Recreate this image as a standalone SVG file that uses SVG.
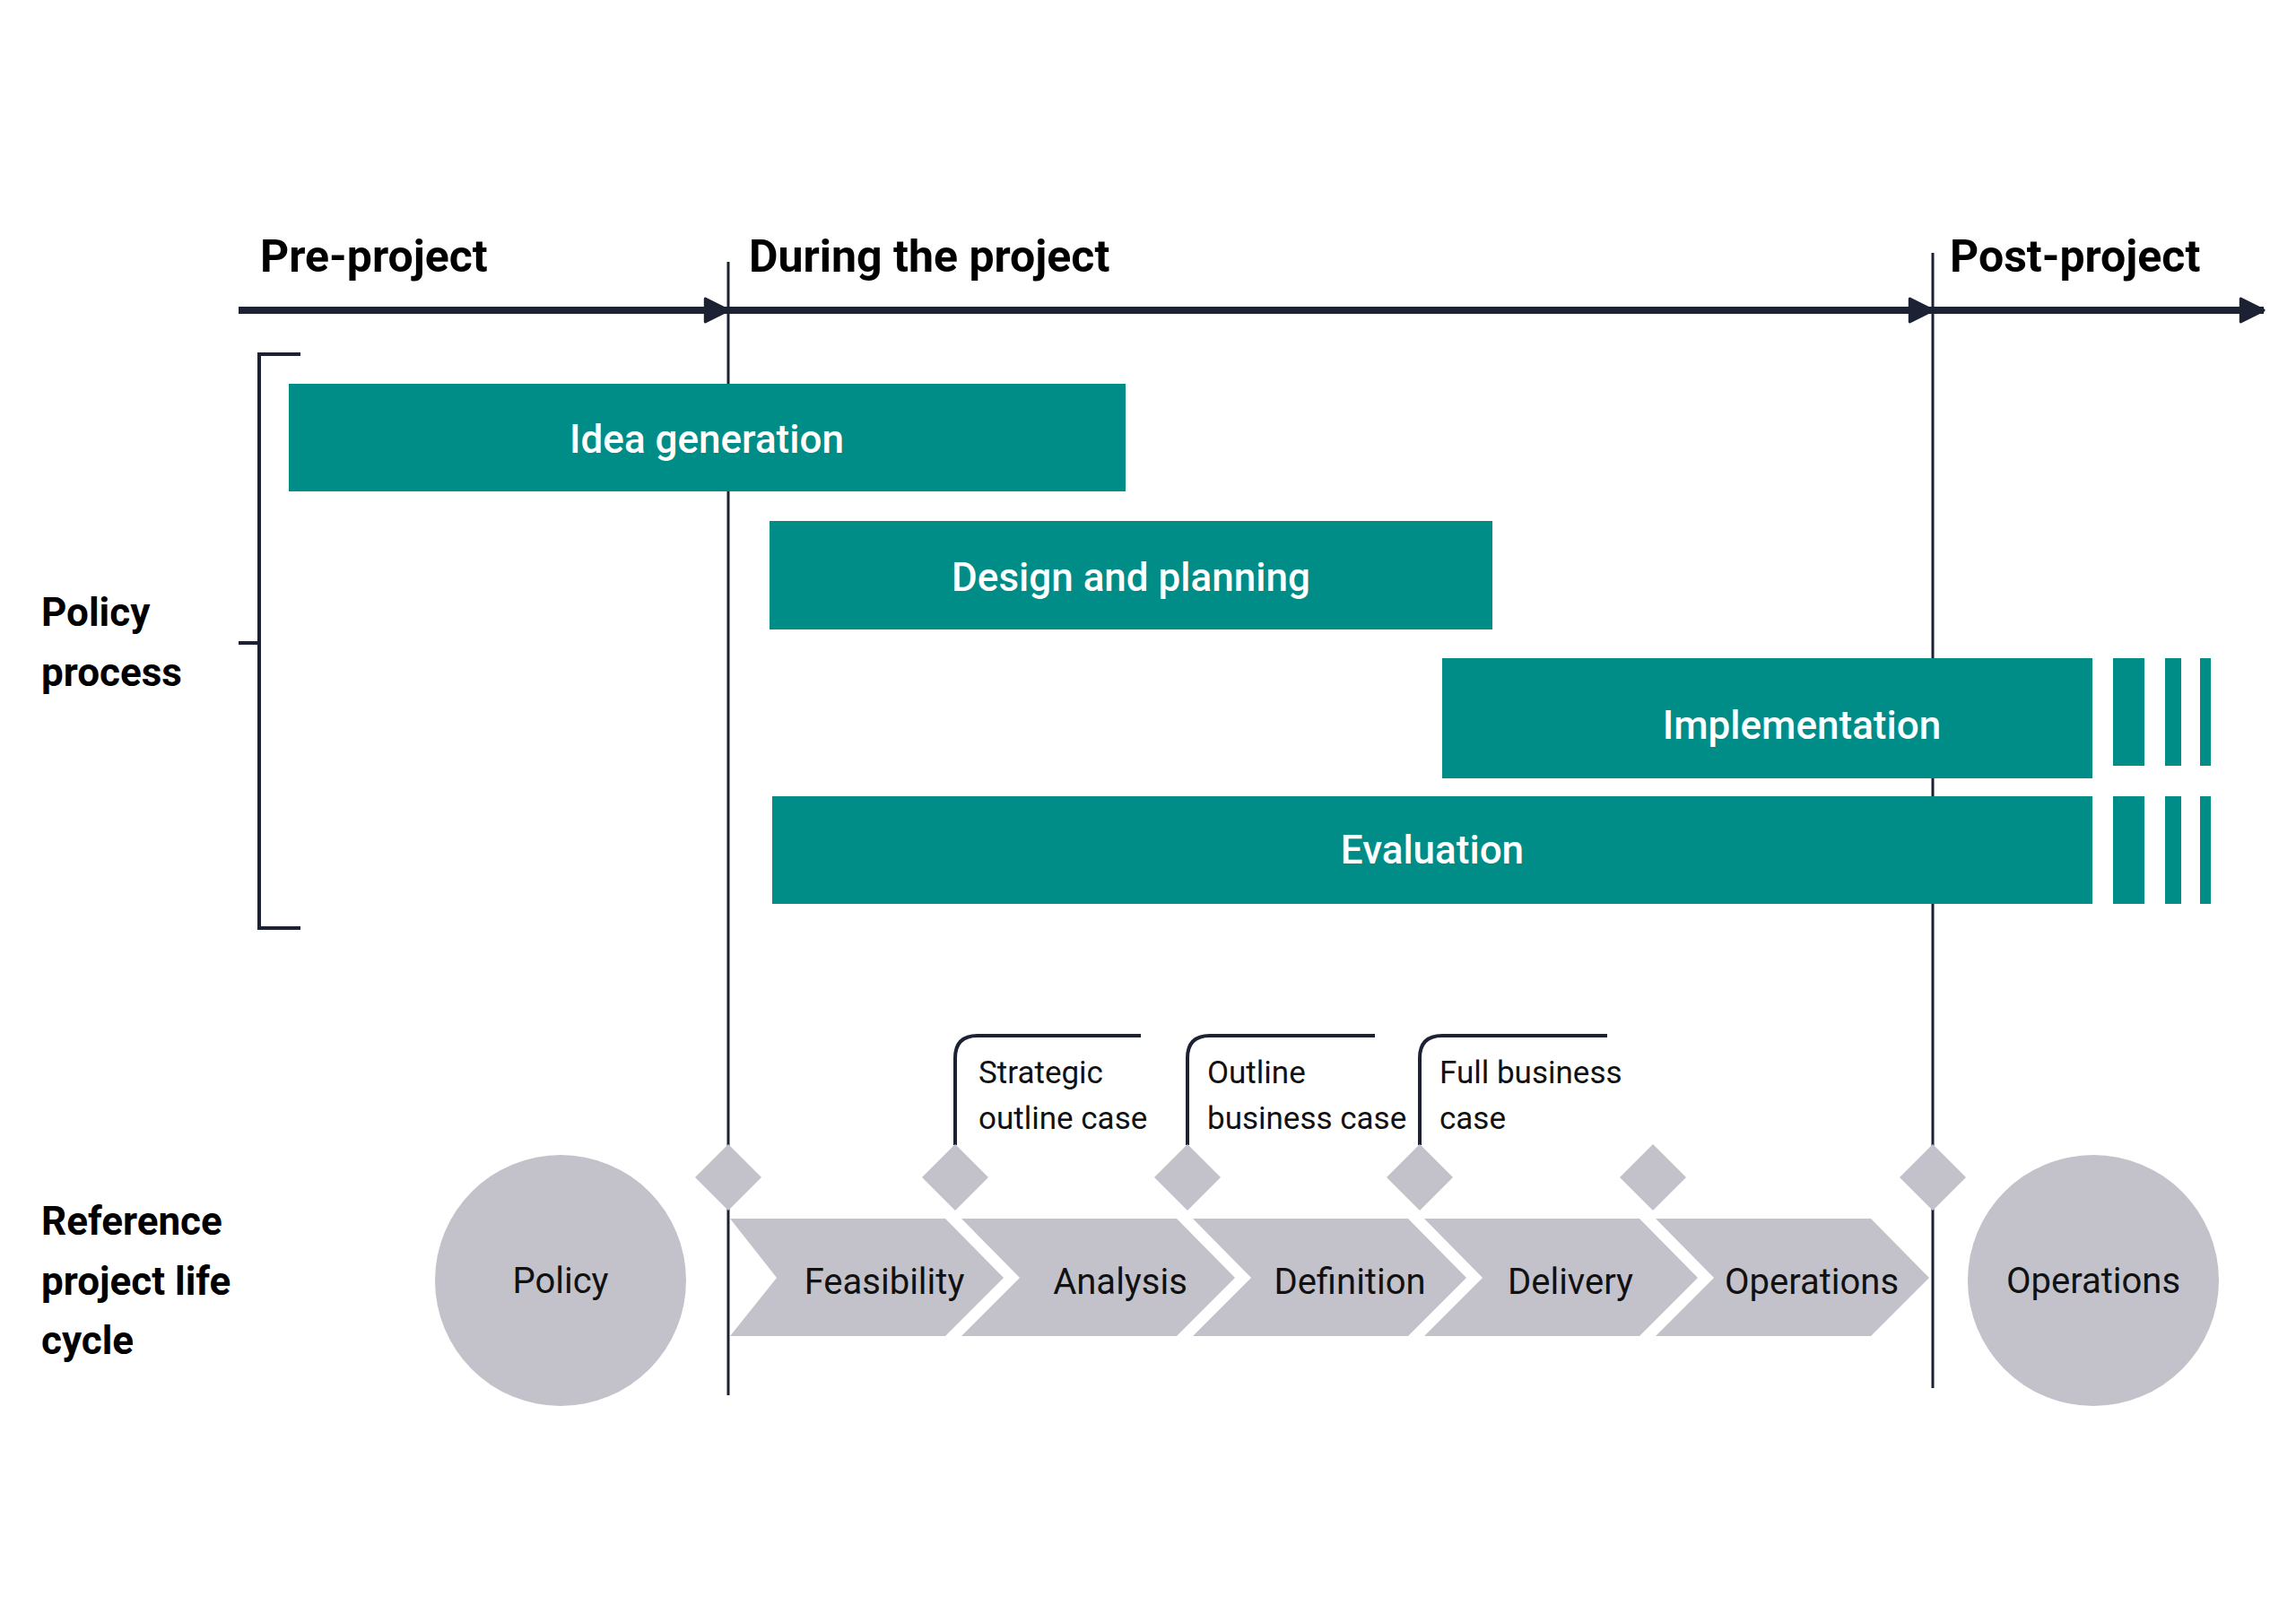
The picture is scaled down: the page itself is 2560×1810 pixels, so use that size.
<svg xmlns="http://www.w3.org/2000/svg" width="2560" height="1810" viewBox="0 0 2560 1810">
<style>
.h{font-family:Roboto,"Liberation Sans",sans-serif;font-weight:700;font-size:50px;fill:#000}
.l{font-family:Roboto,"Liberation Sans",sans-serif;font-weight:700;font-size:44px;fill:#000}
.bar{fill:#008C87}
.bt{font-family:Roboto,"Liberation Sans",sans-serif;font-weight:500;font-size:44px;fill:#fff;text-anchor:middle;dominant-baseline:central}
.g{fill:#C3C2CA}
.ct{font-family:Roboto,"Liberation Sans",sans-serif;font-size:40px;fill:#111;text-anchor:middle;dominant-baseline:central}
.cl{font-family:Roboto,"Liberation Sans",sans-serif;font-size:35px;fill:#111}
.ln{stroke:#1c2233;fill:none}
</style>
<defs>
<marker id="ah" viewBox="0 0 10 10" refX="9" refY="5" markerWidth="4" markerHeight="4" orient="auto" markerUnits="strokeWidth">
<path d="M1,1 L9,5 L1,9 Z" fill="#1c2233" stroke="#1c2233" stroke-linejoin="round"/>
</marker>
</defs>
<rect width="2560" height="1810" fill="#fff"/>
<g id="connectors">
<line class="ln" x1="266" y1="346" x2="812" y2="346" stroke-width="8" marker-end="url(#ah)"/>
<line class="ln" x1="812" y1="346" x2="2155" y2="346" stroke-width="8" marker-end="url(#ah)"/>
<line class="ln" x1="2155" y1="346" x2="2524" y2="346" stroke-width="8" marker-end="url(#ah)"/>
<line class="ln" x1="812" y1="292" x2="812" y2="1556" stroke-width="3"/>
<line class="ln" x1="2155" y1="282" x2="2155" y2="1548" stroke-width="3"/>
<path class="ln" d="M335,395 H289 V1035 H335 M266,717 H289" stroke-width="4"/>
<path class="ln" d="M1065,1277 V1180 Q1065,1155 1090,1155 H1272" stroke-width="4"/>
<path class="ln" d="M1324,1277 V1180 Q1324,1155 1349,1155 H1533" stroke-width="4"/>
<path class="ln" d="M1583,1277 V1180 Q1583,1155 1608,1155 H1792" stroke-width="4"/>
</g>
<g id="headers">
<text class="h" x="290" y="303">Pre-project</text>
<text class="h" x="835" y="303">During the project</text>
<text class="h" x="2174" y="303">Post-project</text>
<text class="l" x="46" y="698">Policy</text>
<text class="l" x="46" y="765">process</text>
<text class="l" x="46" y="1377">Reference</text>
<text class="l" x="46" y="1444">project life</text>
<text class="l" x="46" y="1510">cycle</text>
</g>
<g id="idea"><rect class="bar" x="322" y="428" width="933" height="120"/><text class="bt" x="788" y="490">Idea generation</text></g>
<g id="design"><rect class="bar" x="858" y="581" width="806" height="121"/><text class="bt" x="1261" y="644">Design and planning</text></g>
<g id="implementation"><rect class="bar" x="1608" y="734" width="725" height="134"/><rect class="bar" x="2356" y="734" width="35" height="120"/><rect class="bar" x="2414" y="734" width="18" height="120"/><rect class="bar" x="2453" y="734" width="12" height="120"/><text class="bt" x="2009" y="809">Implementation</text></g>
<g id="evaluation"><rect class="bar" x="861" y="888" width="1472" height="120"/><rect class="bar" x="2356" y="888" width="35" height="120"/><rect class="bar" x="2414" y="888" width="18" height="120"/><rect class="bar" x="2453" y="888" width="12" height="120"/><text class="bt" x="1597" y="948">Evaluation</text></g>
<g id="policy"><circle class="g" cx="625" cy="1428" r="140"/><text class="ct" x="625" y="1428">Policy</text></g>
<g id="operations-post"><circle class="g" cx="2334" cy="1428" r="140"/><text class="ct" x="2334" y="1428">Operations</text></g>
<g id="gates">
<polygon class="g" points="812,1276 849,1313 812,1350 775,1313"/>
<polygon class="g" points="1065,1276 1102,1313 1065,1350 1028,1313"/>
<polygon class="g" points="1324,1276 1361,1313 1324,1350 1287,1313"/>
<polygon class="g" points="1583,1276 1620,1313 1583,1350 1546,1313"/>
<polygon class="g" points="1843,1276 1880,1313 1843,1350 1806,1313"/>
<polygon class="g" points="2155,1276 2192,1313 2155,1350 2118,1313"/>
</g>
<g id="feasibility"><polygon class="g" points="814,1359 1054,1359 1119,1425 1054,1490 814,1490 866,1425"/><text class="ct" x="986" y="1429">Feasibility</text></g>
<g id="analysis"><polygon class="g" points="1072,1359 1312,1359 1377,1425 1312,1490 1072,1490 1137,1425"/><text class="ct" x="1249" y="1429">Analysis</text></g>
<g id="definition"><polygon class="g" points="1330,1359 1570,1359 1635,1425 1570,1490 1330,1490 1395,1425"/><text class="ct" x="1505" y="1429">Definition</text></g>
<g id="delivery"><polygon class="g" points="1588,1359 1828,1359 1893,1425 1828,1490 1588,1490 1653,1425"/><text class="ct" x="1751" y="1429">Delivery</text></g>
<g id="operations"><polygon class="g" points="1846,1359 2086,1359 2151,1425 2086,1490 1846,1490 1911,1425"/><text class="ct" x="2020" y="1429">Operations</text></g>
<g id="soc"><text class="cl" x="1091" y="1208">Strategic</text><text class="cl" x="1091" y="1259">outline case</text></g>
<g id="obc"><text class="cl" x="1346" y="1208">Outline</text><text class="cl" x="1346" y="1259">business case</text></g>
<g id="fbc"><text class="cl" x="1605" y="1208">Full business</text><text class="cl" x="1605" y="1259">case</text></g>
</svg>
